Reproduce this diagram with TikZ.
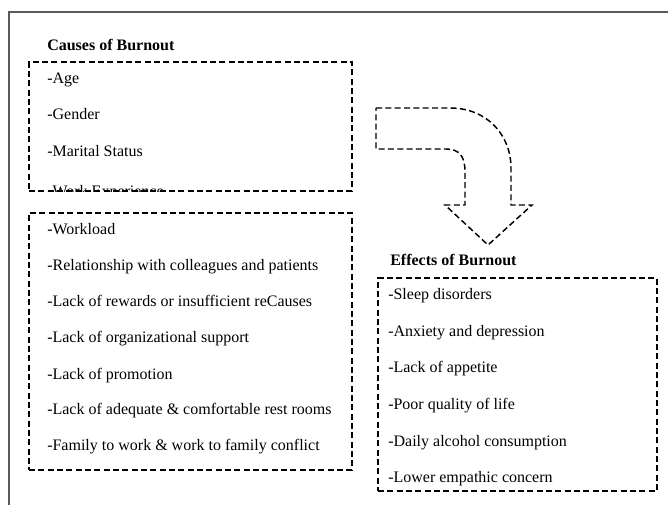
\documentclass[tikz,border=0pt]{standalone}
\usepackage{fontspec}
\setmainfont{Liberation Serif}
\usetikzlibrary{positioning}
\tikzstyle{every node}=[font=\fontsize{12}{14}\selectfont]

\begin{document}
\begin{tikzpicture}[x=0.75pt,y=-0.75pt]
		\tikzstyle{dashline} = [dash pattern=on 4.5pt off 2.5pt, line width=1.1pt, line join=miter]
		\tikzstyle{dashbox} = [draw, dashline, inner sep=0pt, minimum width=242.25pt]
		\tikzstyle{item} = [anchor=base west, inner sep=0pt]
		\tikzstyle{heading} = [item, font=\fontsize{12}{14}\selectfont\bfseries]
		
		\useasboundingbox (0,0) rectangle (668,505);
		
		% frame
		\coordinate (frameTR) at (668,12);
		\coordinate (frameTL) at (9,12);
		\coordinate (frameBL) at (9,505);
		\draw[black!65, line width=1.1pt] (frameTR) -- (frameTL) -- (frameBL);
		
		% causes
		\node[heading] (causesHead) at (47,51) {Causes of Burnout};
		\node[dashbox, minimum height=96.75pt] (personal) at (190.5,126.5) {};
		\node[item] (age) at (47,84) {-Age};
		\node[item] (gender) at (47,120) {-Gender};
		\node[item] (marital) at (47,157) {-Marital Status};
		\begin{scope}
			\clip (personal.south west) rectangle (personal.north east);
			\node[item] (experience) at (47,197) {-Work Experience};
		\end{scope}
		
		\node[dashbox, minimum height=192.75pt] (work) at (190.5,341.5) {};
		\node[item] (workload) at (47,235) {-Workload};
		\node[item] (relation) at (47,271) {-Relationship with colleagues and patients};
		\node[item] (rewards) at (47,307) {-Lack of rewards or insufficient reCauses};
		\node[item] (support) at (47,343) {-Lack of organizational support};
		\node[item] (promotion) at (47,380) {-Lack of promotion};
		\node[item] (restrooms) at (47,415) {-Lack of adequate \& comfortable rest rooms};
		\node[item] (conflict) at (47,451) {-Family to work \& work to family conflict};
		
		% arrow
		\draw[dashline] (376,108) -- (450,108) .. controls (487,108) and (511,135) .. (511,168)
			-- (511,205) -- (532,205) -- (488,245) -- (445,205) -- (465,205) -- (465,172)
			.. controls (465,157) and (460,149) .. (446,149) -- (376,149) -- cycle;
		
		% effects
		\node[heading] (effectsHead) at (390,266) {Effects of Burnout};
		\node[dashbox, minimum width=209.25pt, minimum height=159.75pt] (effects) at (517.5,384.5) {};
		\node[item] (sleep) at (388,300) {-Sleep disorders};
		\node[item] (anxiety) at (388,337) {-Anxiety and depression};
		\node[item] (appetite) at (388,373) {-Lack of appetite};
		\node[item] (quality) at (388,410) {-Poor quality of life};
		\node[item] (alcohol) at (388,447) {-Daily alcohol consumption};
		\node[item] (empathy) at (388,483) {-Lower empathic concern};
		
	\end{tikzpicture}
\end{document}
